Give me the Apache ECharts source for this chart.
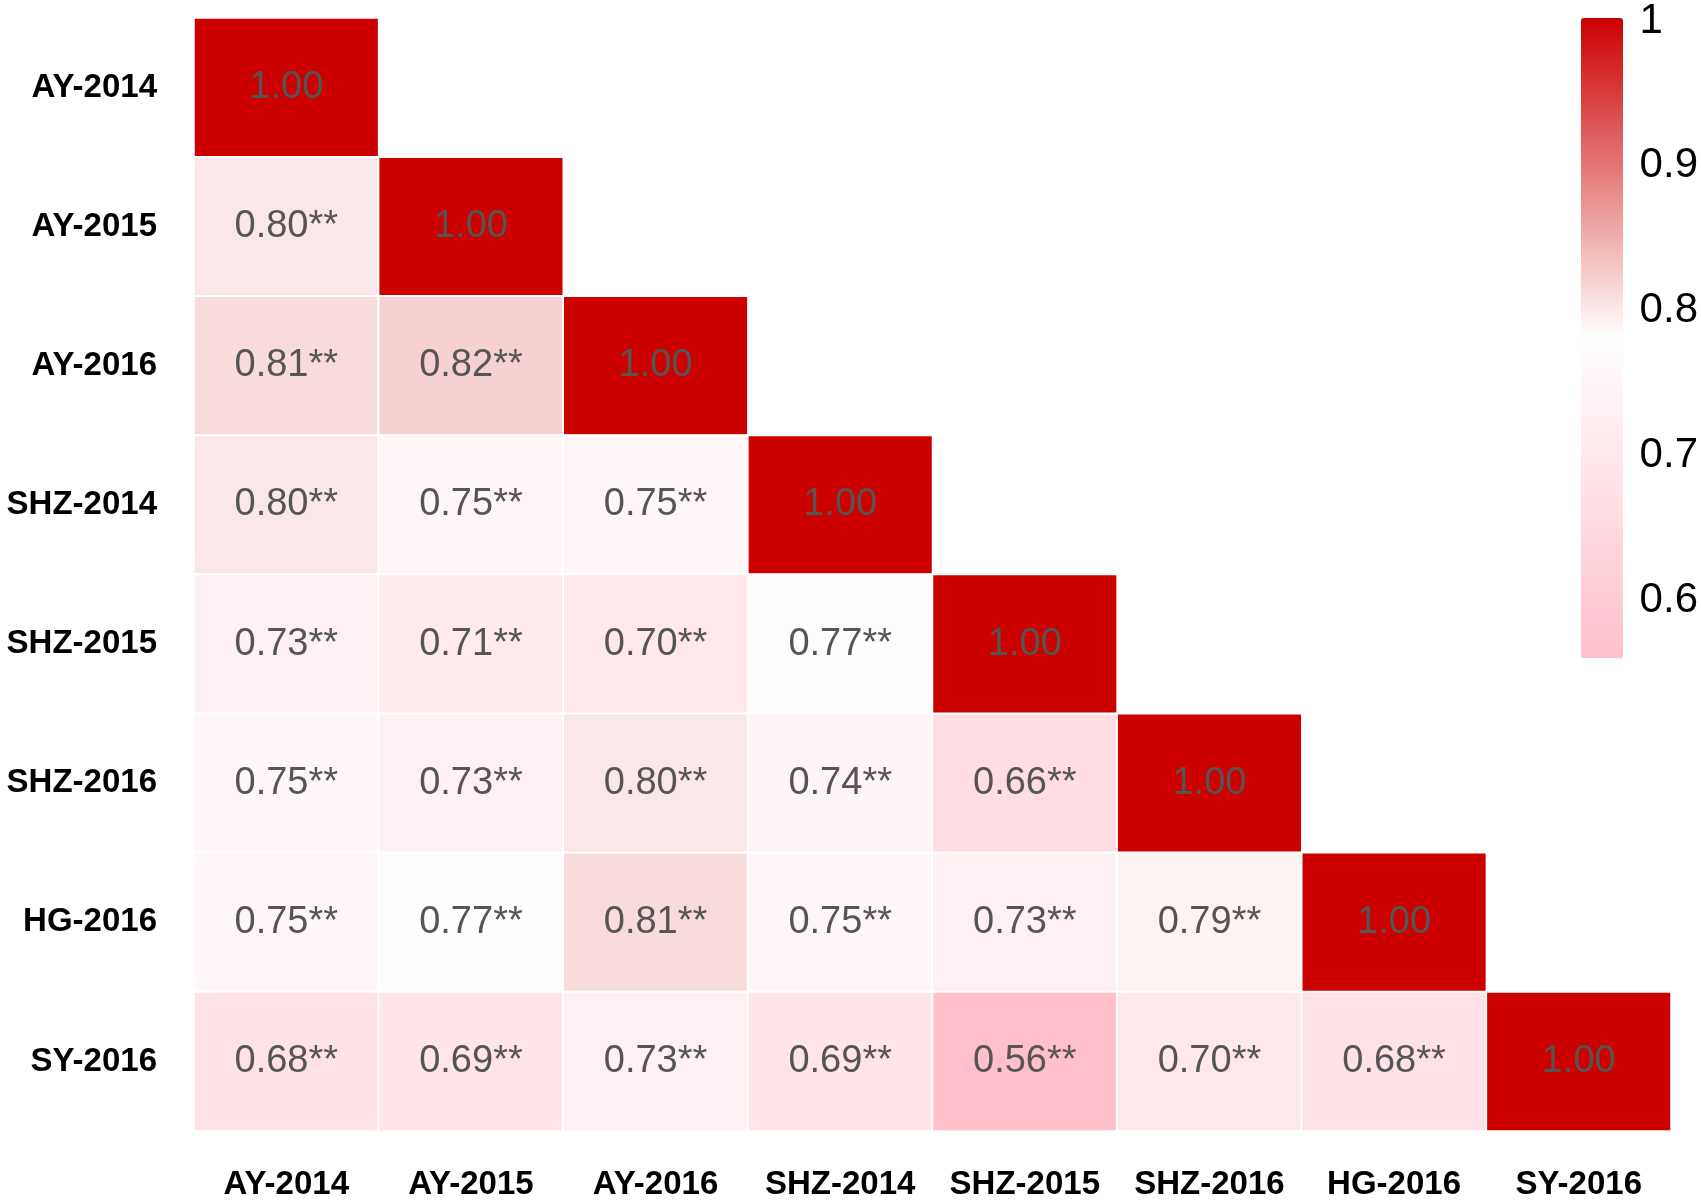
<!DOCTYPE html>
<html><head><meta charset="utf-8">
<script src="https://cdn.jsdelivr.net/npm/echarts@6/dist/echarts.min.js"></script>
<style>html,body{margin:0;padding:0;background:#fff}#c{width:1701px;height:1201px}</style>
</head><body><div id="c"></div>
<script>
const categories = ['AY-2014','AY-2015','AY-2016','SHZ-2014','SHZ-2015','SHZ-2016','HG-2016','SY-2016'];
// lower-triangular correlation values, row by row (row i has i off-diagonal values)
const row_AY2015  = [0.80];
const row_AY2016  = [0.81, 0.82];
const row_SHZ2014 = [0.80, 0.75, 0.75];
const row_SHZ2015 = [0.73, 0.71, 0.70, 0.77];
const row_SHZ2016 = [0.75, 0.73, 0.80, 0.74, 0.66];
const row_HG2016  = [0.75, 0.77, 0.81, 0.75, 0.73, 0.79];
const row_SY2016  = [0.68, 0.69, 0.73, 0.69, 0.56, 0.70, 0.68];
const rows = [[], row_AY2015, row_AY2016, row_SHZ2014, row_SHZ2015, row_SHZ2016, row_HG2016, row_SY2016];
const colorbarTicks = [0.6, 0.7, 0.8, 0.9, 1];
const scaleMin = 0.56, scaleMax = 1;

const data = [];
rows.forEach((r, i) => {
  r.forEach((v, j) => data.push([j, i, v]));
  data.push([i, i, 1.00]);
});

const chart = echarts.init(document.getElementById('c'), null, {renderer: 'canvas'});
chart.setOption({
  backgroundColor: '#ffffff',
  animation: false,
  grid: [
    {left: 194, top: 18, width: 1477, height: 1113},
    {left: 1581, top: 18, width: 42, height: 640}
  ],
  xAxis: [
    {type: 'category', data: categories, gridIndex: 0,
     axisLine: {show: false}, axisTick: {show: false}, splitLine: {show: false},
     axisLabel: {interval: 0, hideOverlap: false, fontFamily: 'Liberation Sans', fontWeight: 'bold', fontSize: 33, color: '#000', margin: 37}},
    {type: 'value', gridIndex: 1, show: false, min: 0, max: 1}
  ],
  yAxis: [
    {type: 'category', data: categories, inverse: true, gridIndex: 0,
     axisLine: {show: false}, axisTick: {show: false}, splitLine: {show: false},
     axisLabel: {interval: 0, fontFamily: 'Liberation Sans', fontWeight: 'bold', fontSize: 33, color: '#000', margin: 37}},
    {type: 'value', gridIndex: 1, position: 'right', min: scaleMin, max: scaleMax,
     axisLine: {show: false}, axisTick: {show: false}, splitLine: {show: false},
     axisLabel: {customValues: colorbarTicks, fontFamily: 'Liberation Sans', fontSize: 42, color: '#000', margin: 17,
       padding: [8, 0, 0, 0],
       formatter: v => String(+v.toFixed(2))}}
  ],
  visualMap: {
    type: 'continuous', min: scaleMin, max: scaleMax, dimension: 2, seriesIndex: 0,
    calculable: false, left: 1581, top: 18, itemWidth: 42, itemHeight: 640,
    padding: 0, text: ['', ''], showLabel: false, orient: 'vertical',
    inRange: {color: ['#FFC0CB', '#FFFFFF', '#CD0000']}
  },
  series: [{
    type: 'heatmap', xAxisIndex: 0, yAxisIndex: 0, data: data,
    itemStyle: {borderColor: '#ffffff', borderWidth: 2},
    label: {show: true, fontFamily: 'Liberation Sans', fontSize: 38, color: '#555555',
      formatter: p => p.value[0] === p.value[1] ? p.value[2].toFixed(2) : p.value[2].toFixed(2) + '**'},
    emphasis: {disabled: true}
  }]
});
</script></body></html>
